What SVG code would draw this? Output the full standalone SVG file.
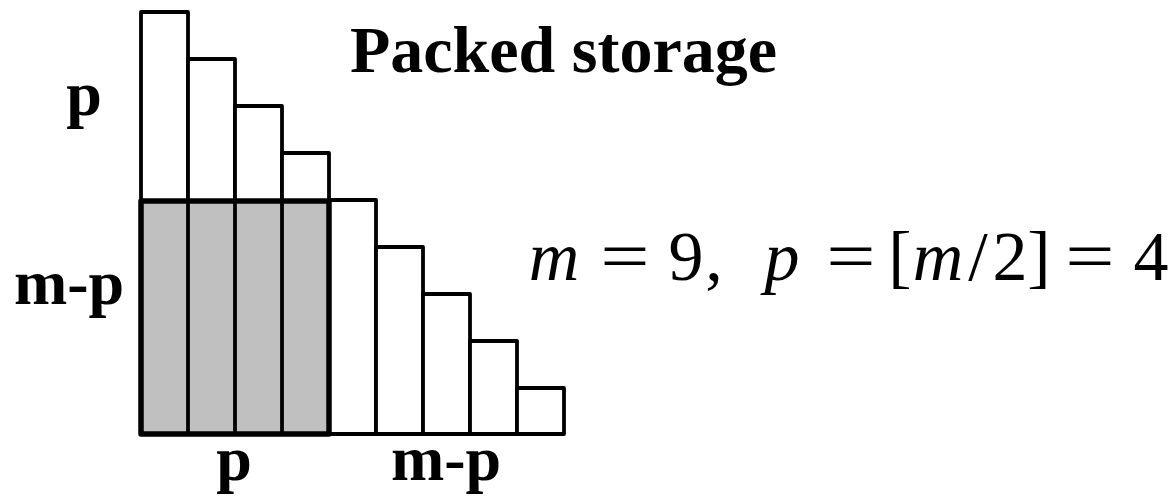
<svg xmlns="http://www.w3.org/2000/svg" width="1171" height="496" viewBox="0 0 1171 496">
<style>
.col{fill:#fff;stroke:#000;stroke-width:3.8;stroke-linejoin:round}
.gray{fill:#c0c0c0;stroke:#000;stroke-width:5.5;stroke-linejoin:round}
.div{stroke:#000;stroke-width:3.8;fill:none}
.lbl{font-family:"Liberation Serif",serif;font-weight:bold;font-size:64px;fill:#000}
.m{font-family:"Liberation Serif",serif;font-size:70px;fill:#000;text-anchor:middle}
.mi{font-style:italic}
</style>
<rect width="1171" height="496" fill="#fff"/>
<g id="columns">
<rect class="col" x="141" y="12" width="47" height="422"/>
<rect class="col" x="188" y="59" width="47" height="375"/>
<rect class="col" x="235" y="106" width="47" height="328"/>
<rect class="col" x="282" y="153" width="47" height="281"/>
<rect class="col" x="329" y="200" width="47" height="234"/>
<rect class="col" x="376" y="247" width="47" height="187"/>
<rect class="col" x="423" y="294" width="47" height="140"/>
<rect class="col" x="470" y="341" width="47" height="93"/>
<rect class="col" x="517" y="388" width="47" height="46"/>
</g>
<g id="shaded-block">
<rect class="gray" x="141" y="201" width="188" height="233"/>
<line class="div" x1="188" y1="201" x2="188" y2="434"/>
<line class="div" x1="235" y1="201" x2="235" y2="434"/>
<line class="div" x1="282" y1="201" x2="282" y2="434"/>
</g>
<g id="labels">
<text class="lbl" x="350" y="72" style="font-size:66px">Packed storage</text>
<text class="lbl" x="84" y="115" text-anchor="middle">p</text>
<text class="lbl" x="69" y="304" text-anchor="middle">m-p</text>
<text class="lbl" x="234" y="480" text-anchor="middle">p</text>
<text class="lbl" x="446" y="480" text-anchor="middle">m-p</text>
</g>
<g id="formula">
<text class="m mi" x="554" y="280">m</text>
<text class="m" transform="translate(625,280) scale(1.25,1)">=</text>
<text class="m" x="686" y="280">9</text>
<text class="m" x="714" y="280">,</text>
<text class="m mi" x="782" y="280">p</text>
<text class="m" transform="translate(851,280) scale(1.25,1)">=</text>
<text class="m" x="900" y="280">[</text>
<text class="m mi" x="938" y="280">m</text>
<text class="m" x="978" y="280">/</text>
<text class="m" x="1010" y="280">2</text>
<text class="m" x="1039" y="280">]</text>
<text class="m" transform="translate(1090,280) scale(1.25,1)">=</text>
<text class="m" x="1151" y="280">4</text>
</g>
</svg>
